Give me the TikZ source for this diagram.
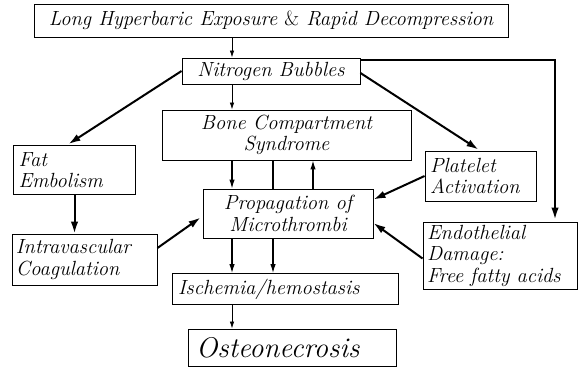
\documentclass[tikz,border=0pt]{standalone}
\usepackage{fontspec}
\usetikzlibrary{arrows.meta}
\begin{document}
\begin{tikzpicture}[x=1pt,y=-1pt,
  box/.style={draw, line width=0.9pt, inner sep=0pt, font=\fontsize{20.5}{21.5}\selectfont\itshape},
  lbox/.style={box, align=left},
  thinarr/.style={line width=0.8pt, -{Latex[length=7pt,width=4.5pt]}},
  medarr/.style={line width=1.2pt, -{Latex[length=9pt,width=5.5pt]}},
  fatarr/.style={line width=2pt, -{Latex[length=12pt,width=7.5pt]}}]
\useasboundingbox (0,0) rectangle (578,368);
\coordinate (cA) at (232,0);
\coordinate (cB) at (273,0);
\coordinate (cC) at (313,0);
\coordinate (cR) at (555,0);
\node[box, minimum width=474pt, minimum height=33pt] (top) at (271,20.5) {Long Hyperbaric Exposure {\upshape\&} Rapid Decompression};
\node[box, minimum width=178pt, minimum height=26pt] (nb) at (271,71) {Nitrogen Bubbles};
\node[box, minimum width=249pt, minimum height=50pt, align=center] (bone) at (286.5,135) {Bone Compartment\\Syndrome};
\node[lbox, minimum width=122pt, minimum height=49pt, text width=112pt] (fat) at (74.5,170) {Fat\\Embolism};
\node[lbox, minimum width=111pt, minimum height=50pt, text width=101pt] (plat) at (480.5,176) {Platelet\\Activation};
\node[box, minimum width=170pt, minimum height=49pt, align=center] (prop) at (288,213.5) {Propagation of\\Microthrombi};
\node[lbox, minimum width=145pt, minimum height=51pt, text width=137pt] (intra) at (84.5,259.5) {Intravascular\\Coagulation};
\node[lbox, minimum width=154pt, minimum height=67pt, text width=146pt] (endo) at (500,255.5) {Endothelial\\Damage:\\Free fatty acids};
\node[lbox, minimum width=226pt, minimum height=31pt, text width=214pt] (isch) at (285,289) {Ischemia/hemostasis};
\node[lbox, minimum width=208pt, minimum height=37pt, text width=192pt, font=\fontsize{28.5}{29}\selectfont\itshape] (osteo) at (292,347.5) {Osteonecrosis};

\draw[thinarr] (top.south -| cA) -- (nb.north -| cA);
\draw[thinarr] (nb.south -| cA) -- (bone.north -| cA);
\draw[fatarr] (nb.west) -- ([xshift=-6pt,yshift=1pt]fat.north);
\draw[fatarr] ([yshift=-2pt]nb.east) -- ([xshift=-2pt,yshift=1pt]plat.north);
\draw[fatarr] ([yshift=-2pt]nb.north east) -| ([yshift=2pt]endo.north -| cR);
\draw[fatarr] (fat.south) -- (intra.north -| fat.south);
\draw[fatarr] ([yshift=11.5pt]intra.east) -- ([xshift=-2pt,yshift=-4pt]prop.west);
\draw[medarr] (bone.south -| cA) -- (prop.north -| cA);
\draw[line width=1.2pt] (bone.south -| cB) -- (prop.north -| cB);
\draw[medarr] (prop.north -| cC) -- (bone.south -| cC);
\draw[fatarr] (plat.west) -- ([yshift=14pt]prop.east);
\draw[fatarr] ([yshift=-3pt]endo.west) -- ([yshift=-9.5pt]prop.east);
\draw[medarr] (prop.south -| cA) -- (isch.north -| cA);
\draw[medarr] (prop.south -| cB) -- (isch.north -| cB);
\draw[thinarr] (isch.south -| cA) -- (osteo.north -| cA);
\end{tikzpicture}
\end{document}
